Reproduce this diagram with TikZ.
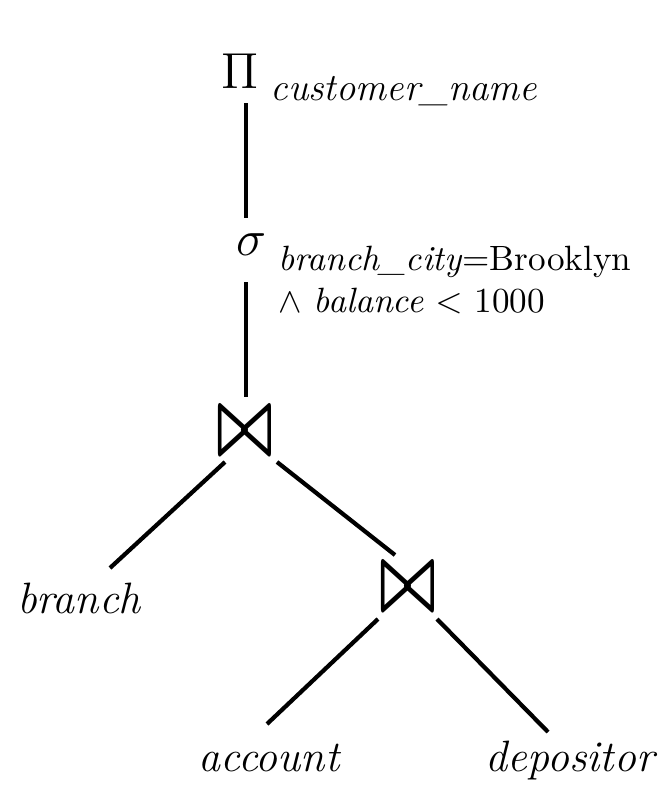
\documentclass[tikz,border=0pt]{standalone}
\usepackage{amssymb}
\usepackage{graphicx}
\usetikzlibrary{calc}
\tikzset{
        op/.style={inner sep=0pt, font=\fontsize{13.3}{16}\selectfont},
        joinop/.style={op, font=\fontsize{13}{16}\selectfont},
        rel/.style={inner sep=0pt, anchor=base, font=\fontsize{12.5}{15}\selectfont\itshape},
        pred/.style={inner sep=0pt, anchor=base west, font=\fontsize{10}{12}\selectfont},
        link/.style={line width=1.2pt}
          }
\newcommand{\joinsym}{\scalebox{1.4}[2.2]{\boldmath$\bowtie$}}

\begin{document}
\begin{tikzpicture}
        [x=0.1mm, y=-0.1mm]
        \useasboundingbox (0,0) rectangle (662,787);
        % operators
        \node[op] (proj) at (240,71) {$\Pi$};
        \node[pred, font=\fontsize{11}{13}\selectfont\itshape] (projattr) at (270,100) {customer\_name};
        \node[op] (sel) at (251,245) {$\sigma$};
        \node[pred] (cond) at (278,270) {\textit{branch\_city}=Brooklyn};
        \node[pred] (cond2) at (278,312) {$\wedge$ \textit{balance} $<$ 1000};
        \node[joinop] (join1) at (245,432) {\joinsym};
        \node[joinop] (join2) at (408,588) {\joinsym};
        % relations
        \node[rel] (branch) at (79,613) {branch};
        \node[rel] (account) at (269,771) {account};
        \node[rel] (depositor) at (570,771) {depositor};
        % edges
        \draw[link] ($(proj)+(6,32)$) -- ($(sel)+(-5,-27)$);
        \draw[link] ($(sel)+(-5,37)$) -- ($(join1)+(1,-35)$);
        \draw[link] ($(join1)+(-20,30)$) -- ($(branch.base)+(31,-45)$);
        \draw[link] ($(join1)+(32,30)$) -- ($(join2)+(-13,-33)$);
        \draw[link] ($(join2)+(-30,31)$) -- ($(account.base)+(-2,-47)$);
        \draw[link] ($(join2)+(29,31)$) -- ($(depositor.base)+(-22,-39)$);
\end{tikzpicture}
\end{document}
